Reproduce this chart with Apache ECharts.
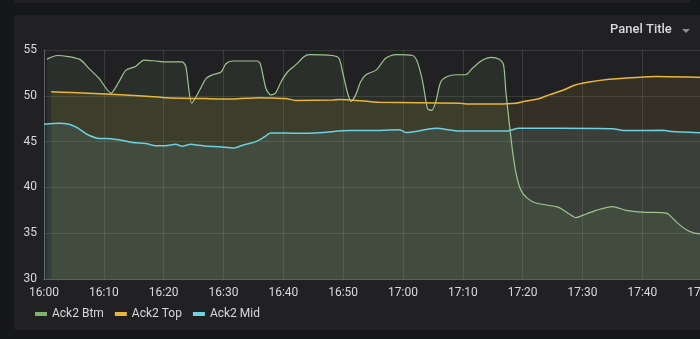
<!DOCTYPE html>
<html>
<head>
    <meta charset="utf-8">
    <title>Panel Title</title>
    <script src="https://cdn.jsdelivr.net/npm/echarts@6/dist/echarts.min.js"></script>
    <style>
        html, body {
            margin: 0;
            padding: 0;
            width: 700px;
            height: 339px;
            overflow: hidden;
            background-color: #161719;
        }
        /* panel above, only its bottom edge is visible */
        #topPanel {
            position: absolute;
            left: 14px;
            top: -10px;
            width: 677px;
            height: 13px;
            background-color: #212124;
            border-radius: 3px;
        }
        #panel {
            position: absolute;
            left: 14px;
            top: 15px;
            width: 720px;
            height: 315px;
            background-color: #212124;
            border-radius: 3px;
        }
        #main {
            position: absolute;
            left: 0;
            top: 0;
            width: 780px;
            height: 339px;
        }
    </style>
</head>
<body>
<div id="topPanel"></div>
<div id="panel"></div>
<div id="main"></div>
<script type="text/javascript">
    // minutes after 16:00 and values
    var btmMin = [0.5, 2.2, 5.9, 7.5, 9.2, 11.2, 12.5, 13.7, 15.3, 16.7, 18.7, 20.3, 23.1, 23.7, 24.7, 26.0, 27.1,
        28.2, 29.6, 30.4, 31.5, 35.7, 36.2, 37.1, 37.9, 38.7, 39.6, 40.7, 42.1, 43.5, 44.3, 48.2, 49.3,
        49.9, 50.7, 51.3, 52.1, 52.9, 53.8, 55.5, 57.1, 58.8, 61.6, 62.4, 63.3, 64.1, 64.8, 65.5, 66.3,
        67.4, 68.8, 70.5, 71.6, 73.3, 74.7, 76.1, 76.8, 77.2, 77.8, 78.3, 78.9, 79.7, 80.8, 82.2, 85.6,
        86.4, 87.8, 88.9, 90.6, 92.3, 95.0, 97.3, 100.1, 104.0, 104.5, 105.9, 107.3, 108.7, 110.5];
    var btmVal = [54.0, 54.4, 54.0, 53.0, 51.9, 50.3, 51.5, 52.8, 53.2, 53.9, 53.8, 53.7, 53.7, 53.2, 49.2, 50.6, 51.9,
        52.3, 52.6, 53.5, 53.8, 53.8, 53.4, 50.8, 50.1, 50.3, 51.5, 52.6, 53.4, 54.3, 54.5, 54.4, 54.1,
        52.6, 50.4, 49.4, 50.1, 51.5, 52.3, 52.8, 54.1, 54.5, 54.4, 53.7, 51.5, 48.6, 48.4, 49.4, 51.5,
        52.1, 52.3, 52.3, 53.0, 53.9, 54.2, 54.0, 53.4, 50.4, 46.8, 44.0, 41.5, 39.7, 38.8, 38.3, 37.9,
        37.7, 37.1, 36.7, 37.1, 37.5, 37.9, 37.5, 37.3, 37.2, 37.0, 36.1, 35.4, 35.0, 34.9];

    var topMin = [1.2, 4.7, 10.2, 13.7, 15.9, 20.3, 27.0, 31.5, 36.0, 38.2, 40.4, 42.1, 48.2, 49.3, 54.0, 56.0,
        69.5, 70.5, 74.4, 78.9, 80.0, 82.8, 84.4, 86.7, 88.9, 91.1, 94.5, 98.9, 102.3, 110.5];
    var topVal = [50.45, 50.35, 50.2, 50.1, 50.0, 49.8, 49.7, 49.65, 49.8, 49.75, 49.7, 49.5, 49.55, 49.6, 49.4, 49.3,
        49.2, 49.1, 49.1, 49.2, 49.35, 49.7, 50.1, 50.6, 51.2, 51.5, 51.8, 52.0, 52.1, 52.0];

    var midMin = [0, 2.5, 4.2, 5.3, 6.4, 7.5, 9.2, 10.3, 12.5, 14.8, 17.0, 18.7, 20.3, 22.0, 23.1, 24.5, 25.9,
        27.3, 29.3, 31.8, 33.2, 35.4, 36.8, 37.9, 42.6, 46.5, 51.0, 54.4, 59.4, 60.5, 65.5, 69.5, 77.2,
        79.4, 86.1, 95.0, 97.3, 103.4, 105.1, 110.5];
    var midVal = [46.9, 47.0, 46.9, 46.6, 46.15, 45.7, 45.35, 45.35, 45.2, 44.9, 44.8, 44.55, 44.55, 44.7, 44.5, 44.7, 44.6,
        44.5, 44.45, 44.3, 44.6, 45.0, 45.5, 45.95, 45.9, 46.0, 46.2, 46.2, 46.3, 46.0, 46.45, 46.15, 46.15,
        46.45, 46.45, 46.4, 46.2, 46.25, 46.1, 45.95];

    var seriesNames = ['Ack2 Btm', 'Ack2 Top', 'Ack2 Mid'];
    var seriesColors = ['#7eb26d', '#eab839', '#6ed0e0'];
    var lineColors = ['#9cc68c', '#eab839', '#6ed0e0'];

    function pairs(xs, ys) {
        var out = [];
        for (var i = 0; i < xs.length; i++) {
            out.push([xs[i], ys[i]]);
        }
        return out;
    }

    // 分钟数 -> HH:MM
    function fmtTime(v) {
        var total = 16 * 60 + Math.round(v);
        var h = Math.floor(total / 60);
        var m = total % 60;
        return h + ':' + (m < 10 ? '0' + m : m);
    }

    var allData = [pairs(btmMin, btmVal), pairs(topMin, topVal), pairs(midMin, midVal)];

    var series = [];
    for (var i = 0; i < seriesNames.length; i++) {
        series.push({
            name: seriesNames[i],
            type: 'line',
            data: allData[i],
            showSymbol: false,
            smooth: 0.25,
            color: seriesColors[i],
            lineStyle: {color: lineColors[i], width: i === 0 ? 1.2 : 1.5},
            areaStyle: {color: seriesColors[i], opacity: 0.1, origin: 'start'},
            animation: false
        });
    }

    var myChart = echarts.init(document.getElementById('main'), null, {renderer: 'canvas'});

    var option = {
        backgroundColor: 'transparent',
        animation: false,
        textStyle: {fontFamily: 'Roboto, sans-serif'},
        grid: {left: 44, right: 18, top: 50, bottom: 60},
        graphic: [
            {
                type: 'text',
                left: 610,
                top: 23,
                style: {
                    text: 'Panel Title',
                    fill: '#d8d9da',
                    font: '500 13px Roboto, sans-serif'
                }
            },
            {
                type: 'polygon',
                shape: {points: [[682, 29], [690, 29], [686, 33]]},
                style: {fill: '#8e8e8e'}
            }
        ],
        legend: {
            left: 35,
            top: 308,
            padding: 0,
            icon: 'rect',
            itemWidth: 12,
            itemHeight: 4,
            itemGap: 11,
            data: seriesNames,
            textStyle: {color: '#d8d9da', fontSize: 12, fontFamily: 'Roboto, sans-serif'}
        },
        xAxis: {
            type: 'value',
            min: 0,
            max: 120,
            interval: 10,
            axisLine: {lineStyle: {color: 'rgba(255,255,255,0.2)'}},
            axisTick: {show: false},
            axisLabel: {color: '#d8d9da', fontSize: 12, margin: 8, formatter: fmtTime},
            splitLine: {show: true, lineStyle: {color: 'rgba(255,255,255,0.11)'}}
        },
        yAxis: {
            type: 'value',
            min: 30,
            max: 55,
            interval: 5,
            axisLine: {show: true, lineStyle: {color: 'rgba(255,255,255,0.2)'}},
            axisTick: {show: false},
            axisLabel: {color: '#d8d9da', fontSize: 12, margin: 7},
            splitLine: {show: true, lineStyle: {color: 'rgba(255,255,255,0.11)'}}
        },
        series: series
    };

    myChart.setOption(option);
</script>
</body>
</html>
